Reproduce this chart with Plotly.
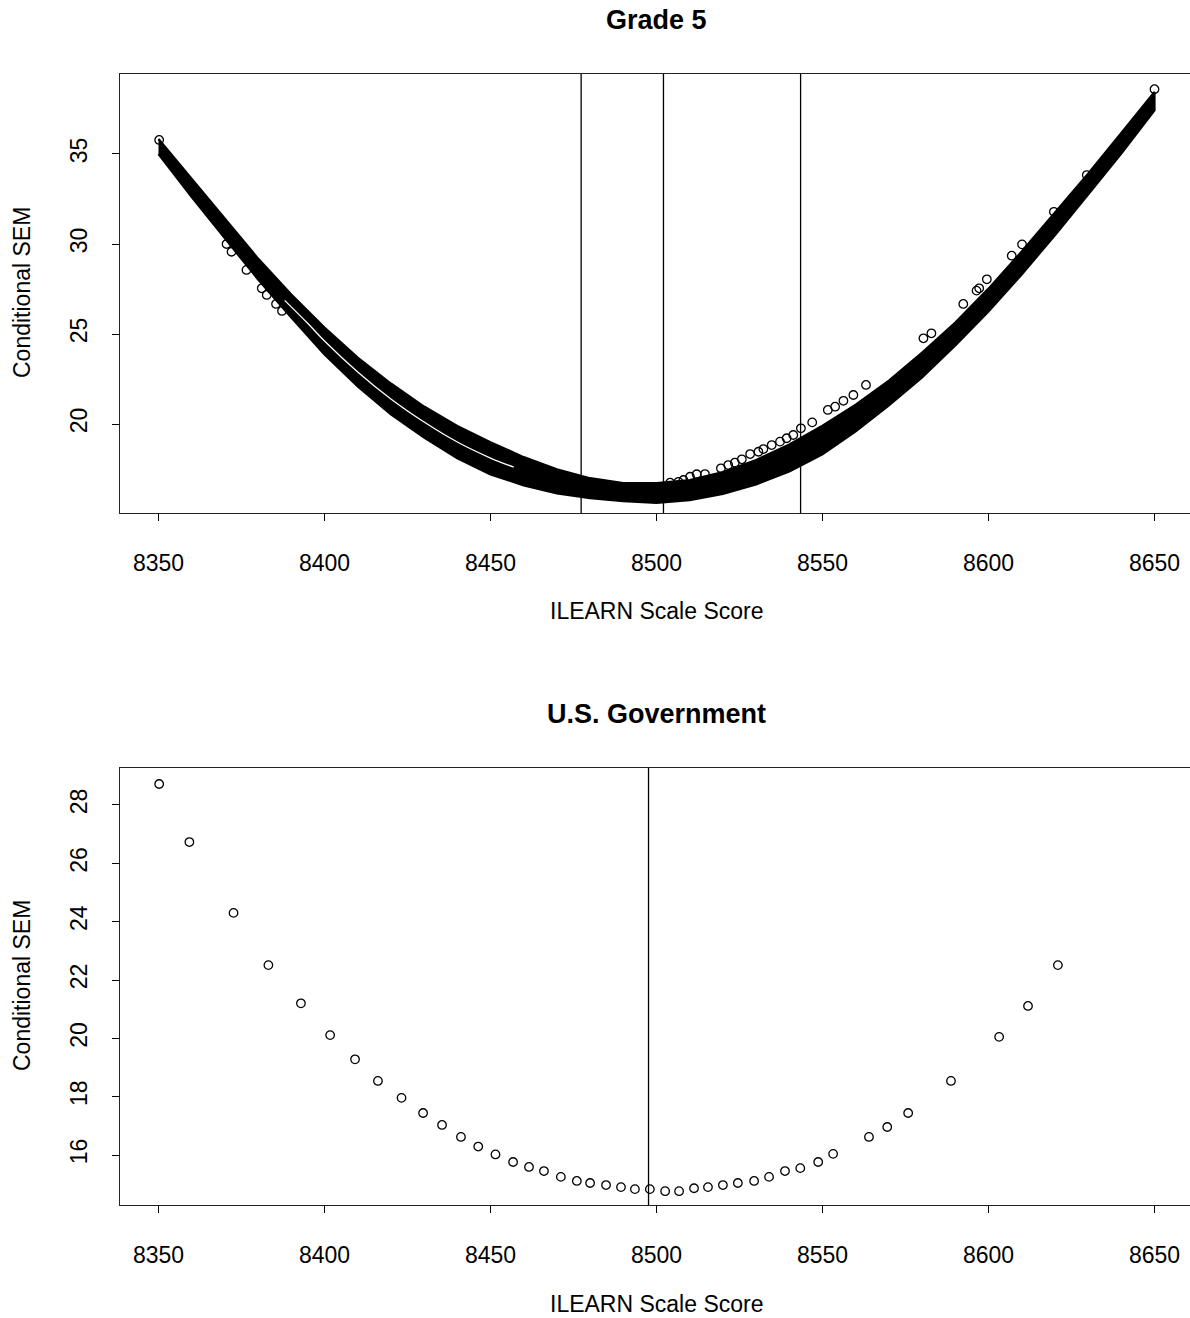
import plotly.graph_objects as go

# ---------------- data ----------------
# Grade 5: dense cloud of points, described by its upper / lower envelope
g5_score = [8350, 8360, 8370, 8380, 8390, 8400, 8410, 8420, 8430, 8440, 8450,
            8460, 8470, 8480, 8490, 8500, 8510, 8520, 8530, 8540, 8550,
            8560, 8570, 8580, 8590, 8600, 8610, 8620, 8630, 8640, 8650]
g5_sem_upper = [35.83, 33.61, 31.36, 29.19, 27.19, 25.36, 23.69, 22.25, 20.97, 19.89, 18.99,
                18.16, 17.49, 16.99, 16.72, 16.72, 16.88, 17.33, 18.00, 18.86, 19.91,
                21.08, 22.41, 23.97, 25.64, 27.52, 29.58, 31.75, 33.91, 36.17, 38.45]
g5_sem_lower = [35.00, 32.61, 30.31, 28.03, 25.92, 23.86, 22.09, 20.53, 19.25, 18.09, 17.20,
                16.59, 16.14, 15.88, 15.72, 15.62, 15.77, 16.11, 16.64, 17.36, 18.31,
                19.59, 21.03, 22.59, 24.36, 26.25, 28.31, 30.48, 32.75, 35.03, 37.42]
# thin empty seam between the two sub-bands on the left
g5_gap_score = [8388, 8395, 8400, 8410, 8420, 8430, 8440, 8450, 8457]
g5_gap_sem = [26.87, 25.58, 24.61, 22.89, 21.39, 20.11, 19.00, 18.11, 17.60]
# isolated points outside the dense band
g5_out_score = [8350.2, 8370.5, 8372.0, 8376.5, 8381.1, 8382.6, 8385.4, 8387.2,
                8504.1, 8506.6, 8508.1, 8510.1, 8512.1, 8514.6, 8519.4, 8521.6, 8523.6,
                8525.7, 8528.2, 8530.7, 8532.2, 8534.7, 8537.2, 8539.2, 8541.2, 8543.5,
                8546.9, 8551.6, 8553.8, 8556.3, 8559.3, 8563.1, 8580.4, 8582.8, 8592.4,
                8596.4, 8597.2, 8599.5, 8607.0, 8610.1, 8619.7, 8629.6, 8650.0]
g5_out_sem = [35.78, 30.00, 29.57, 28.56, 27.54, 27.17, 26.67, 26.28,
              16.74, 16.79, 16.89, 17.07, 17.21, 17.22, 17.54, 17.72, 17.85,
              18.04, 18.33, 18.46, 18.61, 18.83, 19.02, 19.21, 19.39, 19.76,
              20.09, 20.78, 20.96, 21.29, 21.61, 22.17, 24.76, 25.04, 26.67,
              27.41, 27.54, 28.04, 29.35, 29.98, 31.79, 33.83, 38.60]
g5_cuts = [8477.3, 8502.1, 8543.4]

# U.S. Government
gov_score = [8350.2, 8359.3, 8372.6, 8383.1, 8392.9, 8401.7, 8409.2, 8416.1, 8423.2,
             8429.7, 8435.4, 8441.1, 8446.3, 8451.5, 8456.8, 8461.6, 8466.1, 8471.2,
             8476.0, 8480.0, 8484.8, 8489.3, 8493.5, 8498.0, 8502.6, 8506.8, 8511.3,
             8515.5, 8520.0, 8524.5, 8529.4, 8533.9, 8538.7, 8543.3, 8548.7, 8553.2,
             8564.0, 8569.5, 8575.8, 8588.7, 8603.2, 8611.9, 8620.9]
gov_sem = [28.72, 26.73, 24.30, 22.51, 21.20, 20.11, 19.28, 18.54, 17.96,
           17.44, 17.03, 16.62, 16.29, 16.02, 15.76, 15.59, 15.45, 15.25,
           15.11, 15.04, 14.97, 14.90, 14.83, 14.83, 14.76, 14.76, 14.86,
           14.90, 14.97, 15.04, 15.11, 15.25, 15.45, 15.55, 15.76, 16.04,
           16.62, 16.96, 17.44, 18.54, 20.05, 21.11, 22.51]
gov_cuts = [8497.6]

x_ticks = [8350, 8400, 8450, 8500, 8550, 8600, 8650]
g5_y_ticks = [20, 25, 30, 35]
gov_y_ticks = [16, 18, 20, 22, 24, 26, 28]

titles = ["Grade 5", "U.S. Government"]
x_title = "ILEARN Scale Score"
y_title = "Conditional SEM"

# ---------------- layout geometry (pixels) ----------------
W, H = 1190, 1318
L, R, T, B = 120, 0, 74, 113
plot_h = H - T - B
plot_w = W - L - R

def py(p):  # pixel row -> paper y
    return (H - B - p) / plot_h

def px(p):  # pixel column -> paper x
    return (p - L) / plot_w

FONT = "Liberation Sans, Arial, sans-serif"
TICK_SIZE = 23

fig = go.Figure()

# Grade 5 dense band
fig.add_trace(go.Scatter(
    x=g5_score + g5_score[::-1], y=g5_sem_upper + g5_sem_lower[::-1],
    mode="lines", fill="toself", fillcolor="black",
    line=dict(color="black", width=2.2), xaxis="x", yaxis="y",
    hoverinfo="skip", showlegend=False))
fig.add_trace(go.Scatter(
    x=g5_gap_score, y=g5_gap_sem, mode="lines",
    line=dict(color="white", width=1.3, shape="spline"),
    xaxis="x", yaxis="y", hoverinfo="skip", showlegend=False))
fig.add_trace(go.Scatter(
    x=g5_out_score, y=g5_out_sem, mode="markers",
    marker=dict(symbol="circle-open", size=8.5, color="black", line=dict(width=1.3)),
    xaxis="x", yaxis="y", showlegend=False))

# U.S. Government points
fig.add_trace(go.Scatter(
    x=gov_score, y=gov_sem, mode="markers",
    marker=dict(symbol="circle-open", size=8.5, color="black", line=dict(width=1.3)),
    xaxis="x2", yaxis="y2", showlegend=False))

shapes = []
for c in g5_cuts:
    shapes.append(dict(type="line", xref="x", yref="y domain", x0=c, x1=c, y0=0, y1=1,
                       line=dict(color="black", width=1.3), layer="above"))
for c in gov_cuts:
    shapes.append(dict(type="line", xref="x2", yref="y2 domain", x0=c, x1=c, y0=0, y1=1,
                       line=dict(color="black", width=1.3), layer="above"))

x_range = [8350 - 38.5 / 3.32, 8350 + 1031.5 / 3.32]

common_x = dict(range=x_range, tickvals=x_ticks, ticktext=[str(v) for v in x_ticks],
                ticks="outside", ticklen=7, tickwidth=1.2, tickcolor="black",
                showline=True, mirror=True, linecolor="#222", linewidth=1.4,
                showgrid=False, zeroline=False,
                tickfont=dict(family=FONT, size=TICK_SIZE, color="black"),
                ticklabelstandoff=22, domain=[0, 1])
common_y = dict(ticks="outside", ticklen=7, tickwidth=1.2, tickcolor="black",
                showline=True, mirror=False, linecolor="#222", linewidth=1.4,
                showgrid=False, zeroline=False, tickangle=-90,
                tickfont=dict(family=FONT, size=TICK_SIZE, color="black"),
                ticklabelstandoff=16)

annotations = []
for t, yc in zip(titles, [20, 714]):
    annotations.append(dict(text="<b>%s</b>" % t, x=px(656), y=py(yc), xref="paper", yref="paper",
                            showarrow=False, xanchor="center", yanchor="middle",
                            font=dict(family=FONT, size=27, color="black")))
for yc in [611, 1304]:
    annotations.append(dict(text=x_title, x=px(656), y=py(yc), xref="paper", yref="paper",
                            showarrow=False, xanchor="center", yanchor="middle",
                            font=dict(family=FONT, size=TICK_SIZE, color="black")))
for yc in [293, 986]:
    annotations.append(dict(text=y_title, x=px(22), y=py(yc), xref="paper", yref="paper",
                            showarrow=False, xanchor="center", yanchor="middle", textangle=-90,
                            font=dict(family=FONT, size=TICK_SIZE, color="black")))

fig.update_layout(
    width=W, height=H,
    margin=dict(l=L, r=R, t=T, b=B, pad=0),
    paper_bgcolor="white", plot_bgcolor="white",
    showlegend=False,
    xaxis=dict(anchor="y", **common_x),
    yaxis=dict(anchor="x", domain=[py(513), py(74)], range=[15.056, 39.444],
               tickvals=g5_y_ticks, **common_y),
    xaxis2=dict(anchor="y2", **common_x),
    yaxis2=dict(anchor="x2", domain=[py(1205), py(768)], range=[14.286, 29.268],
                tickvals=gov_y_ticks, **common_y),
    shapes=shapes,
    annotations=annotations,
)

fig.write_html("out.html",
               config={"displayModeBar": False},
               post_script="document.body.style.margin='0px';document.body.style.overflow='hidden';")
